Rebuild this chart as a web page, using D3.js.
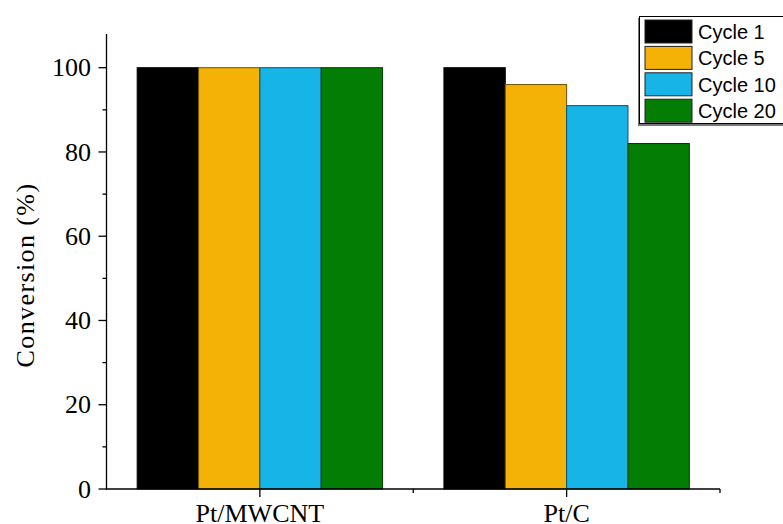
<!DOCTYPE html>
<html>
<head>
<meta charset="utf-8">
<script src="https://cdn.jsdelivr.net/npm/d3@7"></script>
<style>
  html, body { margin: 0; padding: 0; background: #fff; }
  svg { display: block; }
</style>
</head>
<body>
<svg id="chart" width="783" height="524"></svg>
<script>
// Catalyst recycling: conversion per cycle
const catalysts = ["Pt/MWCNT", "Pt/C"];
const cycles = ["Cycle 1", "Cycle 5", "Cycle 10", "Cycle 20"];
const colors = ["#000000", "#f4b207", "#17b4e8", "#037d03"];
const conversion = [
  [100, 100, 100, 100],   // Pt/MWCNT
  [100, 96, 91, 82]       // Pt/C
];
const yTicks = [0, 20, 40, 60, 80, 100];

const svg = d3.select("#chart");
const plotLeft = 106.5, plotRight = 720, plotTop = 34, plotBottom = 489;

const x = d3.scaleBand().domain(catalysts).range([plotLeft, plotRight]).paddingInner(0).paddingOuter(0);
const inner = d3.scaleBand().domain(cycles).range([0, x.bandwidth()]).paddingInner(0).paddingOuter(0.5);
const y = d3.scaleLinear().domain([0, 108]).range([plotBottom, plotTop]);

// bars
catalysts.forEach((cat, i) => {
  const g = svg.append("g").attr("transform", `translate(${x(cat)},0)`);
  cycles.forEach((c, j) => {
    g.append("rect")
      .attr("x", inner(c))
      .attr("y", y(conversion[i][j]))
      .attr("width", inner.bandwidth())
      .attr("height", y(0) - y(conversion[i][j]))
      .attr("fill", colors[j])
      .attr("stroke", j === 0 ? "#000" : d3.color(colors[j]).darker(2.2))
      .attr("stroke-width", 1);
  });
});

const serif = "'Liberation Serif', 'Times New Roman', serif";

// y axis
const yAxis = svg.append("g").attr("transform", `translate(${plotLeft},0)`);
yAxis.append("line").attr("x1", 0).attr("x2", 0).attr("y1", plotTop).attr("y2", plotBottom + 0.5)
  .attr("stroke", "#000").attr("stroke-width", 1.3);
d3.range(0, 101, 10).forEach(v => {
  const major = v % 20 === 0;
  yAxis.append("line").attr("x1", major ? -8 : -4).attr("x2", 0)
    .attr("y1", y(v)).attr("y2", y(v)).attr("stroke", "#000").attr("stroke-width", 1.3);
});
yAxis.selectAll("text.tick").data(yTicks).enter().append("text")
  .attr("x", -15.5).attr("y", d => y(d)).attr("dy", "0.33em")
  .attr("text-anchor", "end").attr("font-family", serif).attr("font-size", 26)
  .text(d => d);

// x axis
const xAxis = svg.append("g").attr("transform", `translate(0,${plotBottom})`);
xAxis.append("line").attr("x1", plotLeft - 0.6).attr("x2", plotRight).attr("y1", 0).attr("y2", 0)
  .attr("stroke", "#000").attr("stroke-width", 1.3);
catalysts.forEach(cat => {
  const cx = x(cat) + x.bandwidth() / 2;
  xAxis.append("line").attr("x1", cx).attr("x2", cx).attr("y1", 0).attr("y2", 8)
    .attr("stroke", "#000").attr("stroke-width", 1.3);
  xAxis.append("text").attr("x", cx).attr("y", 33).attr("text-anchor", "middle")
    .attr("font-family", serif).attr("font-size", 26).text(cat);
});
[x(catalysts[1]), plotRight].forEach(px => {
  xAxis.append("line").attr("x1", px).attr("x2", px).attr("y1", 0).attr("y2", 4)
    .attr("stroke", "#000").attr("stroke-width", 1.3);
});

// y label
svg.append("text")
  .attr("transform", "translate(34,275) rotate(-90)")
  .attr("text-anchor", "middle").attr("font-family", serif).attr("font-size", 26)
  .attr("letter-spacing", 1.4)
  .text("Conversion (%)");

// legend
const lg = svg.append("g").attr("transform", "translate(639,16)");
lg.append("rect").attr("x", -1).attr("y", 2).attr("width", 160).attr("height", 108)
  .attr("fill", "#777");
lg.append("rect").attr("x", 0.5).attr("y", 0.5).attr("width", 160).attr("height", 107)
  .attr("fill", "#fff").attr("stroke", "#000").attr("stroke-width", 1);
cycles.forEach((c, j) => {
  lg.append("rect").attr("x", 6).attr("y", 4 + j * 26.4).attr("width", 47).attr("height", 23)
    .attr("fill", colors[j]).attr("stroke", "#222").attr("stroke-width", 1);
  lg.append("text").attr("x", 59).attr("y", 15.5 + j * 26.4).attr("dy", "0.36em")
    .attr("font-family", "'Liberation Sans', Arial, sans-serif").attr("font-size", 20)
    .text(c);
});
</script>
</body>
</html>
